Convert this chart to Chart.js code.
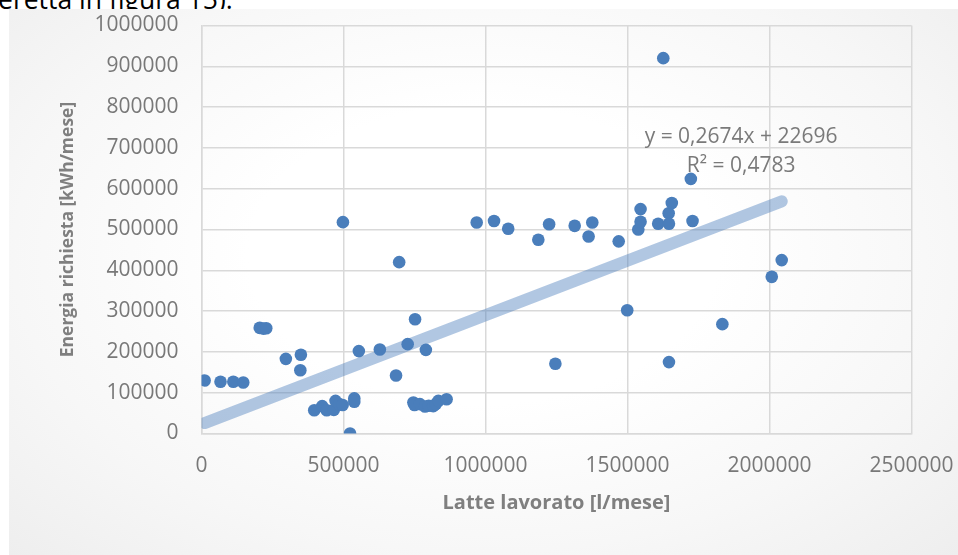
<!DOCTYPE html>
<html>
<head>
<meta charset="utf-8">
<script src="https://cdn.jsdelivr.net/npm/chart.js@4/dist/chart.umd.min.js"></script>
<style>
  html, body { margin: 0; padding: 0; background: #ffffff; width: 958px; height: 555px; overflow: hidden; }
  #caption {
    position: absolute; left: -2px; top: -14px;
    font-family: "Open Sans", "Noto Sans", sans-serif; font-size: 26.5px; line-height: 26.5px;
    color: #000; white-space: nowrap;
  }
  #frame {
    position: absolute; left: 9px; top: 9px; width: 949px; height: 546px;
    background: radial-gradient(ellipse at 50% 45%, #ffffff 35%, #f7f7f7 70%, #eeeeee 100%);
  }
  canvas { display: block; }
</style>
</head>
<body>
<div id="caption">eretta in figura 15).</div>
<div id="frame"><canvas id="chart" width="949" height="546"></canvas></div>
<script>
// Latte lavorato [l/mese] per ciascun mese osservato
const latteLavorato = [
  11000, 67000, 112000, 147000, 205000, 218000, 228000, 297000, 348000, 350000,
  397000, 425000, 441000, 466000, 472000, 485000, 497000, 498000, 523000, 538000,
  538000, 554000, 628000, 685000, 696000, 726000, 746000, 750000, 752000, 769000,
  787000, 790000, 800000, 816000, 825000, 834000, 863000, 969000, 1030000, 1080000,
  1186000, 1224000, 1246000, 1314000, 1363000, 1376000, 1469000, 1499000, 1538000, 1546000,
  1546000, 1608000, 1626000, 1645000, 1646000, 1646000, 1656000, 1723000, 1729000, 1834000,
  2008000, 2043000
];
// Energia richiesta [kWh/mese] nello stesso mese
const energiaRichiesta = [
  130000, 127000, 127000, 125000, 259000, 257000, 258000, 183000, 155000, 193000,
  57000, 67000, 57000, 58000, 80000, 72000, 70000, 518000, 0, 86000,
  78000, 202000, 206000, 142000, 420000, 219000, 76000, 70000, 280000, 72000,
  66000, 205000, 68000, 67000, 72000, 80000, 84000, 517000, 521000, 502000,
  475000, 513000, 171000, 509000, 483000, 517000, 471000, 302000, 500000, 519000,
  550000, 514000, 920000, 540000, 514000, 175000, 565000, 624000, 521000, 268000,
  384000, 425000
];
// Assi: estremi e passo delle tacche
const xTicks = { min: 0, max: 2500000, step: 500000 };
const yTicks = { min: 0, max: 1000000, step: 100000 };
// Retta di regressione lineare e coefficiente di determinazione
const pendenza = 0.2674;
const intercetta = 22696;
const equazione = 'y = 0,2674x + 22696';
const r2 = 'R² = 0,4783';

const punti = latteLavorato.map((x, i) => ({ x, y: energiaRichiesta[i] }));
const xMinDati = Math.min(...latteLavorato);
const xMaxDati = Math.max(...latteLavorato);
const retta = [xMinDati, xMaxDati].map(x => ({ x, y: pendenza * x + intercetta }));

const FONT = '"Open Sans", "Noto Sans", sans-serif';
const GRID = '#d9d9d9';

// Dimensioni fisse degli assi, senza margini extra per le etichette
function fissaAsse(size) {
  return function (s) {
    if (s.isHorizontal()) s.height = size; else s.width = size;
    s.paddingTop = 0; s.paddingBottom = 0; s.paddingLeft = 0; s.paddingRight = 0;
  };
}

// Etichetta con equazione e R² della linea di tendenza
const etichettaTendenza = {
  id: 'etichettaTendenza',
  afterDatasetsDraw(chart) {
    const { ctx, scales } = chart;
    const cx = scales.x.getPixelForValue(1900000);
    ctx.save();
    ctx.font = '21px ' + FONT;
    ctx.fillStyle = '#7a7a7a';
    ctx.textAlign = 'center';
    ctx.textBaseline = 'middle';
    ctx.fillText(equazione, cx, scales.y.getPixelForValue(727000));
    ctx.fillText(r2, cx, scales.y.getPixelForValue(656000));
    ctx.restore();
  }
};

new Chart(document.getElementById('chart'), {
  type: 'scatter',
  data: {
    datasets: [
      {
        label: 'Energia richiesta',
        data: punti,
        backgroundColor: '#4a7ebb',
        borderColor: '#4a7ebb',
        pointRadius: 6.3,
        pointHoverRadius: 6.3,
        borderWidth: 0
      },
      {
        label: 'Lineare',
        data: retta,
        showLine: true,
        borderColor: 'rgba(74,126,187,0.43)',
        borderWidth: 12,
        borderCapStyle: 'round',
        pointRadius: 0,
        fill: false
      }
    ]
  },
  options: {
    responsive: false,
    animation: false,
    layout: { padding: { left: 0, right: 46.5, top: 16.5, bottom: 0 } },
    plugins: { legend: { display: false }, tooltip: { enabled: false } },
    scales: {
      x: {
        type: 'linear',
        min: xTicks.min, max: xTicks.max,
        afterFit: fissaAsse(121.5),
        ticks: {
          stepSize: xTicks.step, color: '#787878', padding: 20,
          font: { family: FONT, size: 21 }, maxRotation: 0,
          callback: v => String(v)
        },
        grid: { color: GRID, lineWidth: 1.5, drawTicks: false },
        border: { display: true, color: GRID, width: 1.5 },
        title: {
          display: true, text: 'Latte lavorato [l/mese]', color: '#7f7f7f',
          font: { family: FONT, size: 20, weight: 'bold' },
          padding: { top: 0, bottom: 40 }
        }
      },
      y: {
        type: 'linear',
        min: yTicks.min, max: yTicks.max,
        afterFit: fissaAsse(192.5),
        ticks: {
          stepSize: yTicks.step, color: '#787878', padding: 23,
          font: { family: FONT, size: 21 },
          callback: v => String(v)
        },
        grid: { color: GRID, lineWidth: 1.5, drawTicks: false },
        border: { display: true, color: GRID, width: 1.5 },
        title: {
          display: true, text: 'Energia richiesta [kWh/mese]', color: '#7f7f7f',
          font: { family: FONT, size: 17.5, weight: 'bold' },
          padding: { top: 48.5, bottom: 0 }
        }
      }
    }
  },
  plugins: [etichettaTendenza]
});
</script>
</body>
</html>
